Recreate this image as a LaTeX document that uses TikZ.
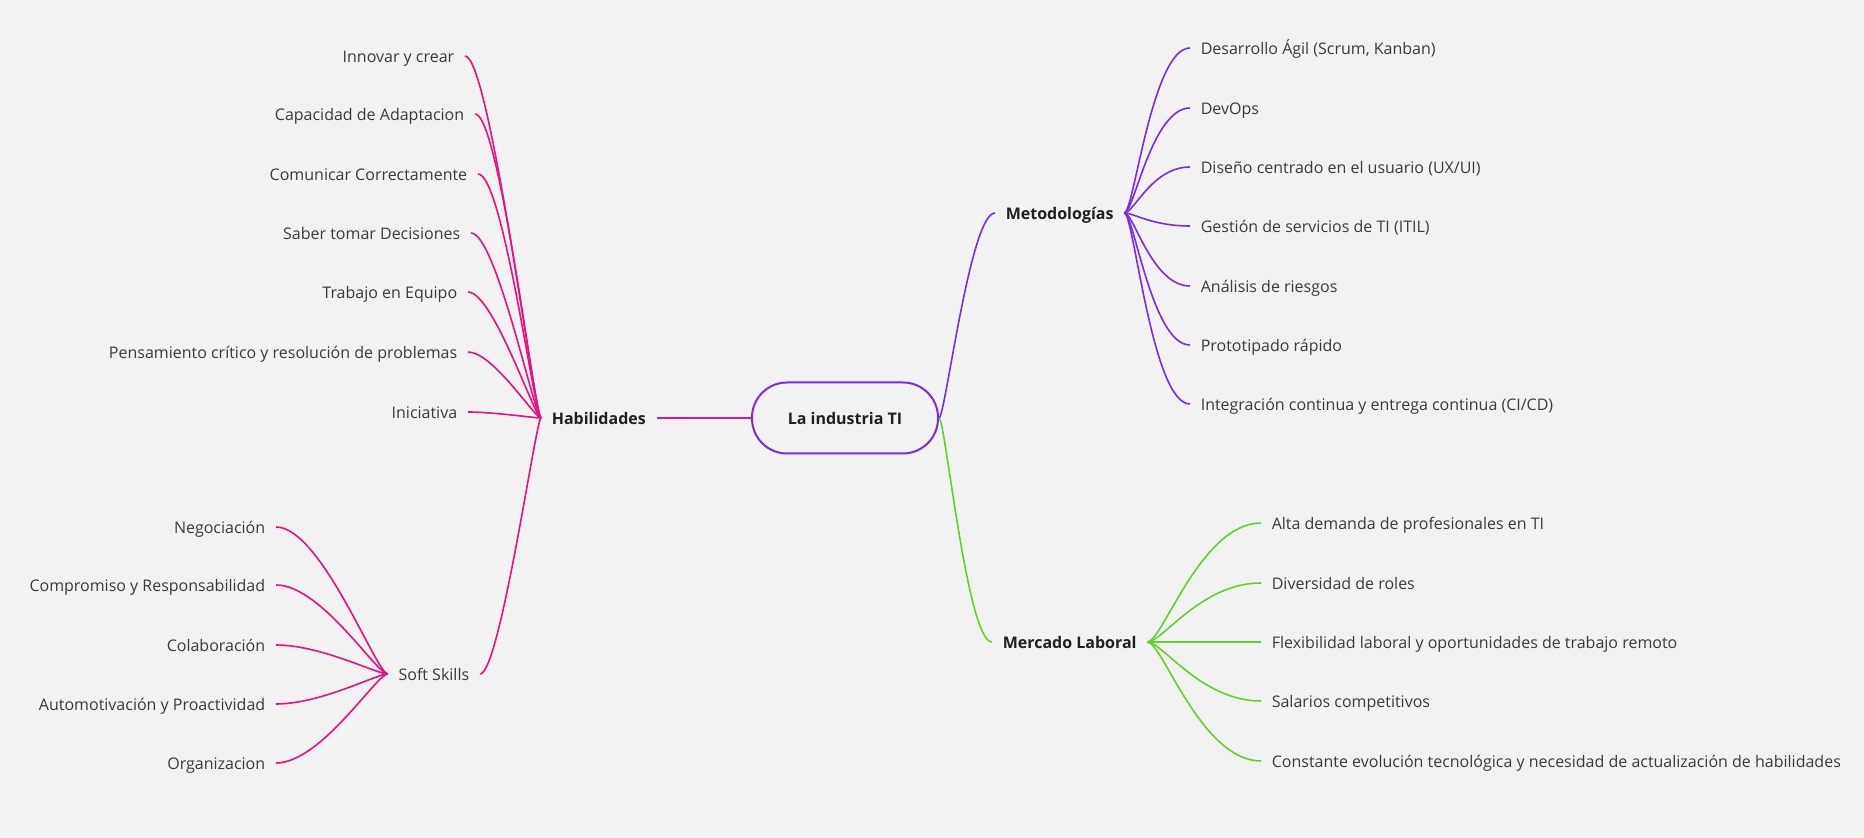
\documentclass[tikz,border=0pt]{standalone}
\usepackage{fontspec}
\setmainfont{Open Sans}
\definecolor{fondo}{RGB}{242,242,242}
\definecolor{rosa}{RGB}{232,17,126}
\definecolor{morado}{RGB}{122,43,232}
\definecolor{verde}{RGB}{100,208,46}
\definecolor{texto}{RGB}{58,58,58}
\tikzset{
  hoja/.style={inner xsep=5pt, inner ysep=0pt, text height=8pt, text depth=1.6pt,
    text=texto, font=\fontsize{8}{10}\selectfont},
  tema/.style={hoja, text=black!88, font=\fontsize{8}{10}\selectfont\bfseries},
  rama/.style={to path={.. controls +(#1/4,0) and +({-1*(#1)},0) .. (\tikztotarget)}},
}
\begin{document}
\begin{tikzpicture}[x=0.5pt, y=-0.5pt, line width=0.8pt]
\fill[fondo] (0,0) rectangle (1864,838);
\useasboundingbox (0,0) rectangle (1864,838);
% nodo central
\node[tema, draw=morado, line width=1pt, rounded corners=17.5pt,
  minimum width=93pt, minimum height=35.5pt] (ti) at (845,418) {La industria TI};
% ramas principales
\node[tema, anchor=west] (hab) at (541,418) {Habilidades};
\node[hoja, anchor=east] (soft) at (480,674) {Soft Skills};
\node[tema, anchor=west] (met) at (995,213) {Metodologías};
\node[tema, anchor=west] (mer) at (992,642) {Mercado Laboral};
\draw[rosa, line width=1pt] (hab.east) -- (ti.west);
\draw[rosa] (hab.west) to[rama=-20] (soft.east);
\draw[morado] (ti.east) to[rama=25] (met.west);
\draw[verde] (ti.east) to[rama=25] (mer.west);
% habilidades
\foreach \x/\y/\txt [count=\i] in {465/56/Innovar y crear, 475/114/Capacidad de Adaptacion,
  478/174/Comunicar Correctamente, 471/233/Saber tomar Decisiones, 468/292/Trabajo en Equipo,
  468/352/Pensamiento crítico y resolución de problemas, 468/412/Iniciativa}{
  \node[hoja, anchor=east] (h\i) at (\x,\y) {\txt};
  \draw[rosa] (hab.west) to[rama=-25] (h\i.east);
}
% soft skills
\foreach \y/\txt [count=\i] in {527/Negociación, 585/Compromiso y Responsabilidad,
  645/Colaboración, 704/Automotivación y Proactividad, 763/Organizacion}{
  \node[hoja, anchor=east] (s\i) at (276,\y) {\txt};
  \draw[rosa] (soft.west) to[rama=-45] (s\i.east);
}
% metodologias
\foreach \y/\txt [count=\i] in {48/{Desarrollo Ágil (Scrum, Kanban)}, 108/DevOps,
  167/{Diseño centrado en el usuario (UX/UI)}, 226/{Gestión de servicios de TI (ITIL)},
  286/Análisis de riesgos, 345/Prototipado rápido,
  404/{Integración continua y entrega continua (CI/CD)}}{
  \node[hoja, anchor=west] (m\i) at (1190,\y) {\txt};
  \draw[morado] (met.east) to[rama=38] (m\i.west);
}
% mercado laboral
\foreach \y/\txt [count=\i] in {523/Alta demanda de profesionales en TI, 583/Diversidad de roles,
  642/Flexibilidad laboral y oportunidades de trabajo remoto, 701/Salarios competitivos,
  761/Constante evolución tecnológica y necesidad de actualización de habilidades}{
  \node[hoja, anchor=west] (l\i) at (1261,\y) {\txt};
  \draw[verde] (mer.east) to[rama=60] (l\i.west);
}
\end{tikzpicture}
\end{document}
